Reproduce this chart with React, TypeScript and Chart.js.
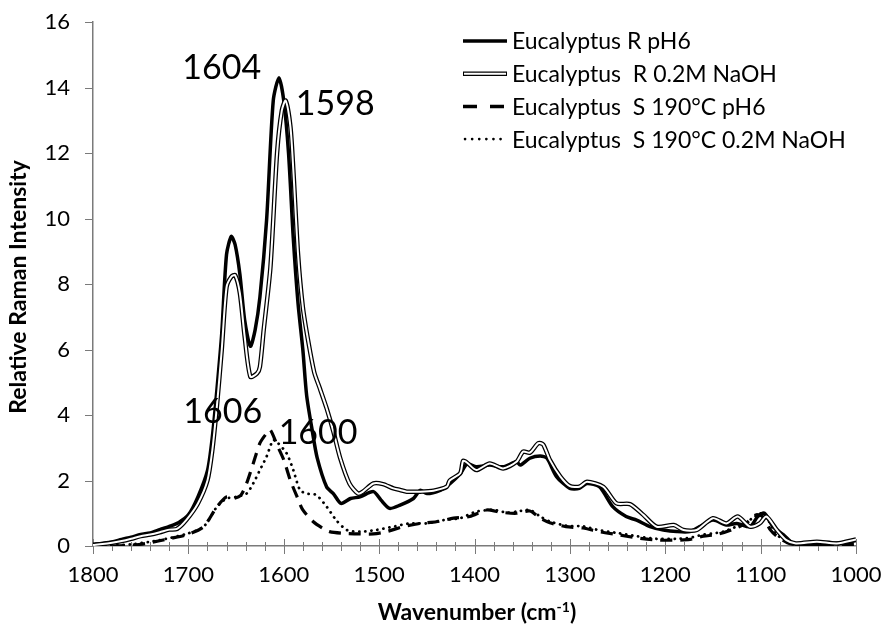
import { useEffect, useRef } from "react";
import { Chart, registerables } from "chart.js";

Chart.register(...registerables);

// ---------- data ----------
const rPh6Wn = [1800, 1790, 1780, 1770, 1760, 1750, 1740, 1730, 1720, 1710, 1700, 1690, 1680, 1675, 1670, 1665, 1660, 1655, 1651, 1646, 1641, 1635, 1630, 1625, 1618, 1611, 1605, 1600, 1595, 1590, 1585, 1580, 1576, 1570, 1565, 1555, 1548, 1540, 1530, 1520, 1506, 1498, 1489, 1478, 1464, 1457, 1450, 1436, 1426, 1415, 1408, 1398, 1384, 1370, 1356, 1352, 1342, 1331, 1324, 1314, 1300, 1290, 1282, 1269, 1255, 1241, 1230, 1216, 1202, 1188, 1174, 1164, 1150, 1136, 1125, 1111, 1103, 1096, 1087, 1076, 1066, 1048, 1024, 1006, 1000];
const rPh6Int = [0.05, 0.08, 0.12, 0.2, 0.27, 0.35, 0.4, 0.5, 0.6, 0.72, 0.95, 1.5, 2.3, 3.3, 4.8, 6.5, 8.9, 9.45, 9.2, 8.3, 6.9, 6.1, 6.6, 7.6, 9.95, 13.6, 14.3, 13.6, 12.0, 9.4, 7.4, 6.0, 4.6, 3.5, 2.7, 1.8, 1.6, 1.3, 1.45, 1.5, 1.66, 1.4, 1.15, 1.25, 1.45, 1.7, 1.6, 1.7, 1.9, 2.2, 2.5, 2.42, 2.47, 2.42, 2.57, 2.47, 2.68, 2.75, 2.68, 2.12, 1.76, 1.76, 1.91, 1.81, 1.2, 0.9, 0.79, 0.59, 0.49, 0.44, 0.44, 0.59, 0.79, 0.64, 0.69, 0.59, 0.9, 1.0, 0.59, 0.34, 0.08, 0.03, 0.08, 0.13, 0.17];

const rNaohWn = [1800, 1790, 1780, 1770, 1760, 1750, 1740, 1730, 1720, 1712, 1702, 1690, 1680, 1675, 1670, 1665, 1660, 1655, 1651, 1646, 1641, 1635, 1628, 1625, 1621, 1614, 1607, 1602, 1598, 1593, 1590, 1585, 1580, 1574, 1568, 1562, 1555, 1548, 1541, 1531, 1522, 1517, 1506, 1496, 1485, 1478, 1471, 1457, 1443, 1429, 1426, 1415, 1412, 1408, 1398, 1384, 1370, 1356, 1349, 1342, 1333, 1328, 1321, 1310, 1300, 1290, 1282, 1265, 1251, 1237, 1223, 1209, 1191, 1181, 1167, 1150, 1136, 1124, 1111, 1101, 1094, 1083, 1073, 1063, 1041, 1020, 1000];
const rNaohInt = [0.03, 0.06, 0.1, 0.15, 0.22, 0.3, 0.35, 0.42, 0.5, 0.52, 0.8, 1.3, 2.0, 2.9, 4.3, 6.0, 7.9, 8.22, 8.27, 7.72, 6.4, 5.17, 5.27, 5.47, 6.6, 8.5, 12.0, 13.3, 13.6, 12.8, 11.5, 8.9, 7.3, 6.2, 5.3, 4.8, 4.2, 3.5, 2.7, 1.9, 1.6, 1.66, 1.91, 1.89, 1.76, 1.71, 1.66, 1.66, 1.69, 1.81, 2.0, 2.22, 2.6, 2.55, 2.32, 2.52, 2.37, 2.57, 2.88, 2.85, 3.14, 3.1, 2.63, 2.12, 1.83, 1.81, 1.96, 1.81, 1.3, 1.28, 0.95, 0.59, 0.64, 0.49, 0.49, 0.85, 0.69, 0.9, 0.59, 0.69, 0.9, 0.49, 0.18, 0.08, 0.13, 0.08, 0.2];

const sPh6Wn = [1800, 1780, 1760, 1744, 1719, 1702, 1684, 1670, 1660, 1653, 1645, 1639, 1632, 1625, 1618, 1614, 1607, 1600, 1593, 1586, 1580, 1569, 1559, 1552, 1538, 1520, 1506, 1492, 1475, 1457, 1440, 1422, 1405, 1387, 1373, 1356, 1342, 1331, 1321, 1304, 1286, 1272, 1251, 1230, 1209, 1188, 1174, 1160, 1146, 1130, 1115, 1105, 1098, 1090, 1083, 1072, 1060, 1040, 1020, 1000];
const sPh6Int = [0.0, 0.0, 0.02, 0.08, 0.23, 0.34, 0.59, 1.2, 1.5, 1.45, 1.55, 1.91, 2.52, 3.14, 3.44, 3.54, 3.08, 2.63, 2.0, 1.5, 1.1, 0.74, 0.54, 0.44, 0.39, 0.37, 0.37, 0.44, 0.59, 0.69, 0.74, 0.85, 0.9, 1.1, 1.03, 1.0, 1.07, 0.85, 0.71, 0.59, 0.55, 0.45, 0.35, 0.25, 0.18, 0.18, 0.2, 0.3, 0.35, 0.5, 0.7, 0.95, 0.9, 0.5, 0.3, 0.1, 0.03, 0.02, 0.03, 0.05];

const sNaohWn = [1800, 1780, 1760, 1730, 1702, 1684, 1670, 1660, 1650, 1639, 1632, 1625, 1618, 1611, 1606, 1597, 1590, 1583, 1576, 1566, 1555, 1545, 1534, 1520, 1503, 1485, 1468, 1450, 1433, 1415, 1398, 1380, 1366, 1356, 1342, 1331, 1321, 1304, 1286, 1272, 1251, 1230, 1209, 1188, 1174, 1160, 1146, 1139, 1125, 1108, 1101, 1094, 1088, 1083, 1070, 1060, 1040, 1020, 1000];
const sNaohInt = [0.02, 0.02, 0.05, 0.18, 0.37, 0.59, 1.2, 1.45, 1.5, 1.6, 1.91, 2.32, 2.73, 3.24, 3.14, 2.83, 2.32, 1.71, 1.6, 1.56, 1.2, 0.79, 0.49, 0.44, 0.49, 0.59, 0.69, 0.69, 0.79, 0.85, 1.05, 1.1, 1.02, 1.05, 1.1, 0.9, 0.75, 0.62, 0.6, 0.5, 0.4, 0.3, 0.22, 0.22, 0.25, 0.35, 0.4, 0.44, 0.6, 0.85, 1.0, 0.9, 0.55, 0.34, 0.1, 0.05, 0.05, 0.05, 0.08];

const seriesLabels = [
  "Eucalyptus R pH6",
  "Eucalyptus  R 0.2M NaOH",
  "Eucalyptus  S 190°C pH6",
  "Eucalyptus  S 190°C 0.2M NaOH",
];

const peakLabels = ["1604", "1598", "1606", "1600"];
const peakLabelWn = [1665, 1546, 1664, 1564];
const peakLabelInt = [14.6, 13.5, 4.09, 3.45];

const xTickValues = [1800, 1700, 1600, 1500, 1400, 1300, 1200, 1100, 1000];
const yTickValues = [0, 2, 4, 6, 8, 10, 12, 14, 16];

const yTitle = "Relative Raman Intensity";
const xTitleMain = "Wavenumber (cm";
const xTitleSup = "-1";
const xTitleEnd = ")";

// ---------- helpers ----------
const pts = (wn: number[], v: number[]) => wn.map((x, i) => ({ x, y: v[i] }));

const FONT = "Lato, 'Open Sans', sans-serif";
const AXIS_COLOR = "#7a7a7a";
const AREA = { left: 93, right: 856, top: 22, bottom: 546 };

type Sty = (ctx: CanvasRenderingContext2D, x0: number, x1: number, y: number) => void;
const legendStyles: Sty[] = [
  (ctx, x0, x1, y) => {
    ctx.strokeStyle = "#000";
    ctx.lineWidth = 3.5;
    ctx.setLineDash([]);
    ctx.beginPath(); ctx.moveTo(x0, y); ctx.lineTo(x1, y); ctx.stroke();
  },
  (ctx, x0, x1, y) => {
    ctx.setLineDash([]);
    ctx.strokeStyle = "#000";
    ctx.lineWidth = 4.5;
    ctx.beginPath(); ctx.moveTo(x0, y); ctx.lineTo(x1, y); ctx.stroke();
    ctx.strokeStyle = "#fff";
    ctx.lineWidth = 2;
    ctx.beginPath(); ctx.moveTo(x0 + 1, y); ctx.lineTo(x1 - 1, y); ctx.stroke();
  },
  (ctx, x0, x1, y) => {
    ctx.strokeStyle = "#000";
    ctx.lineWidth = 3.5;
    ctx.setLineDash([14, 13]);
    ctx.beginPath(); ctx.moveTo(x0, y); ctx.lineTo(x1, y); ctx.stroke();
    ctx.setLineDash([]);
  },
  (ctx, x0, x1, y) => {
    ctx.strokeStyle = "#000";
    ctx.lineWidth = 2.6;
    ctx.lineCap = "round";
    ctx.setLineDash([0.1, 7]);
    ctx.beginPath(); ctx.moveTo(x0 + 2, y); ctx.lineTo(x1, y); ctx.stroke();
    ctx.setLineDash([]);
    ctx.lineCap = "butt";
  },
];

const decorPlugin = {
  id: "decor",
  beforeDatasetsDraw(chart: any) {
    const { ctx, chartArea } = chart;
    const xs = chart.scales.x;
    const ys = chart.scales.y;
    ctx.save();
    ctx.strokeStyle = AXIS_COLOR;
    ctx.lineWidth = 1;
    for (const v of yTickValues) {
      const py = Math.round(ys.getPixelForValue(v)) + 0.5;
      ctx.beginPath();
      ctx.moveTo(chartArea.left - 8, py);
      ctx.lineTo(chartArea.left, py);
      ctx.stroke();
    }
    for (let v = 1000; v <= 1800; v += 20) {
      const px = Math.round(xs.getPixelForValue(v)) + 0.5;
      const major = v % 100 === 0;
      ctx.beginPath();
      ctx.moveTo(px, chartArea.bottom - (major ? 7 : 4));
      ctx.lineTo(px, chartArea.bottom + (major ? 8 : 5));
      ctx.stroke();
    }
    ctx.restore();
  },
  afterDraw(chart: any) {
    const { ctx } = chart;
    const xs = chart.scales.x;
    const ys = chart.scales.y;
    ctx.save();
    ctx.fillStyle = "#000";
    // peak labels
    ctx.font = `34px ${FONT}`;
    ctx.textAlign = "center";
    ctx.textBaseline = "middle";
    peakLabels.forEach((t, i) => {
      ctx.fillText(t, xs.getPixelForValue(peakLabelWn[i]), ys.getPixelForValue(peakLabelInt[i]));
    });
    // legend
    ctx.font = `23px ${FONT}`;
    ctx.textAlign = "left";
    const lx0 = 463, lx1 = 507, tx = 512;
    seriesLabels.forEach((t, i) => {
      const y = 41 + i * 32.7;
      legendStyles[i](ctx, lx0, lx1, y);
      ctx.fillStyle = "#000";
      ctx.fillText(t, tx, y + 1);
    });
    // y title
    ctx.save();
    ctx.translate(19, 287);
    ctx.rotate(-Math.PI / 2);
    ctx.font = `bold 23px ${FONT}`;
    ctx.textAlign = "center";
    ctx.textBaseline = "middle";
    ctx.fillText(yTitle, 0, 0);
    ctx.restore();
    // x title with superscript
    const big = `bold 23px ${FONT}`;
    const small = `bold 14px ${FONT}`;
    ctx.font = big;
    const w1 = ctx.measureText(xTitleMain).width;
    const w3 = ctx.measureText(xTitleEnd).width;
    ctx.font = small;
    const w2 = ctx.measureText(xTitleSup).width;
    const total = w1 + w2 + w3;
    let x = 477 - total / 2;
    const by = 620;
    ctx.textAlign = "left";
    ctx.textBaseline = "alphabetic";
    ctx.font = big;
    ctx.fillText(xTitleMain, x, by);
    x += w1;
    ctx.font = small;
    ctx.fillText(xTitleSup, x, by - 8);
    x += w2;
    ctx.font = big;
    ctx.fillText(xTitleEnd, x, by);
    ctx.restore();
  },
};

export default function App() {
  const ref = useRef<HTMLCanvasElement | null>(null);

  useEffect(() => {
    if (!ref.current) return;
    const common = { pointRadius: 0, pointHoverRadius: 0, tension: 0.25, fill: false };
    const chart = new Chart(ref.current, {
      type: "line",
      data: {
        datasets: [
          { ...common, label: "_inner", data: pts(rNaohWn, rNaohInt), borderColor: "#fff", borderWidth: 2, order: 0 },
          { ...common, label: seriesLabels[1], data: pts(rNaohWn, rNaohInt), borderColor: "#000", borderWidth: 4.5, order: 1 },
          { ...common, label: seriesLabels[0], data: pts(rPh6Wn, rPh6Int), borderColor: "#000", borderWidth: 3.5, order: 2 },
          { ...common, label: seriesLabels[2], data: pts(sPh6Wn, sPh6Int), borderColor: "#000", borderWidth: 3.2, borderDash: [12, 8], order: 3 },
          { ...common, label: seriesLabels[3], data: pts(sNaohWn, sNaohInt), borderColor: "#000", borderWidth: 2.8, borderDash: [0.1, 6], borderCapStyle: "round", order: 4 },
        ] as any,
      },
      options: {
        responsive: false,
        animation: false,
        events: [],
        layout: { padding: { left: 0, right: 30, top: 22, bottom: 0 } },
        plugins: { legend: { display: false }, tooltip: { enabled: false }, title: { display: false } },
        scales: {
          x: {
            type: "linear",
            reverse: true,
            min: 1000,
            max: 1800,
            afterFit: (s: any) => { s.height = 79; s.paddingLeft = 0; s.paddingRight = 0; },
            afterBuildTicks: (s: any) => { s.ticks = xTickValues.map((v) => ({ value: v })); },
            ticks: { font: { family: FONT, size: 22 }, color: "#000", padding: 16, maxRotation: 0, autoSkip: false, callback: (v: any) => String(v) },
            grid: { display: false, drawTicks: false, tickLength: 0 },
            border: { display: true, color: AXIS_COLOR, width: 1.5 },
          },
          y: {
            min: 0,
            max: 16,
            afterFit: (s: any) => { s.width = 93; s.paddingTop = 0; s.paddingBottom = 0; },
            afterBuildTicks: (s: any) => { s.ticks = yTickValues.map((v) => ({ value: v })); },
            ticks: { font: { family: FONT, size: 22 }, color: "#000", padding: 23, callback: (v: any) => String(v) },
            grid: { display: false, drawTicks: false, tickLength: 0 },
            border: { display: true, color: AXIS_COLOR, width: 1.5 },
          },
        },
      } as any,
      plugins: [decorPlugin],
    });
    // correct any extra layout padding so the plot area lands where the reference has it
    const ca = chart.chartArea;
    const pad = chart.options.layout.padding as any;
    const dr = ca.right - AREA.right;
    const dt = ca.top - AREA.top;
    if (Math.abs(dr) > 0.5 || Math.abs(dt) > 0.5) {
      pad.right = Math.max(0, pad.right + dr);
      pad.top = Math.max(0, pad.top - dt);
      chart.update();
    }
    return () => chart.destroy();
  }, []);

  return (
    <div style={{ position: "fixed", left: 0, top: 0, width: 886, height: 625, background: "#fff" }}>
      <canvas ref={ref} width={886} height={625} style={{ width: 886, height: 625, display: "block" }} />
    </div>
  );
}
